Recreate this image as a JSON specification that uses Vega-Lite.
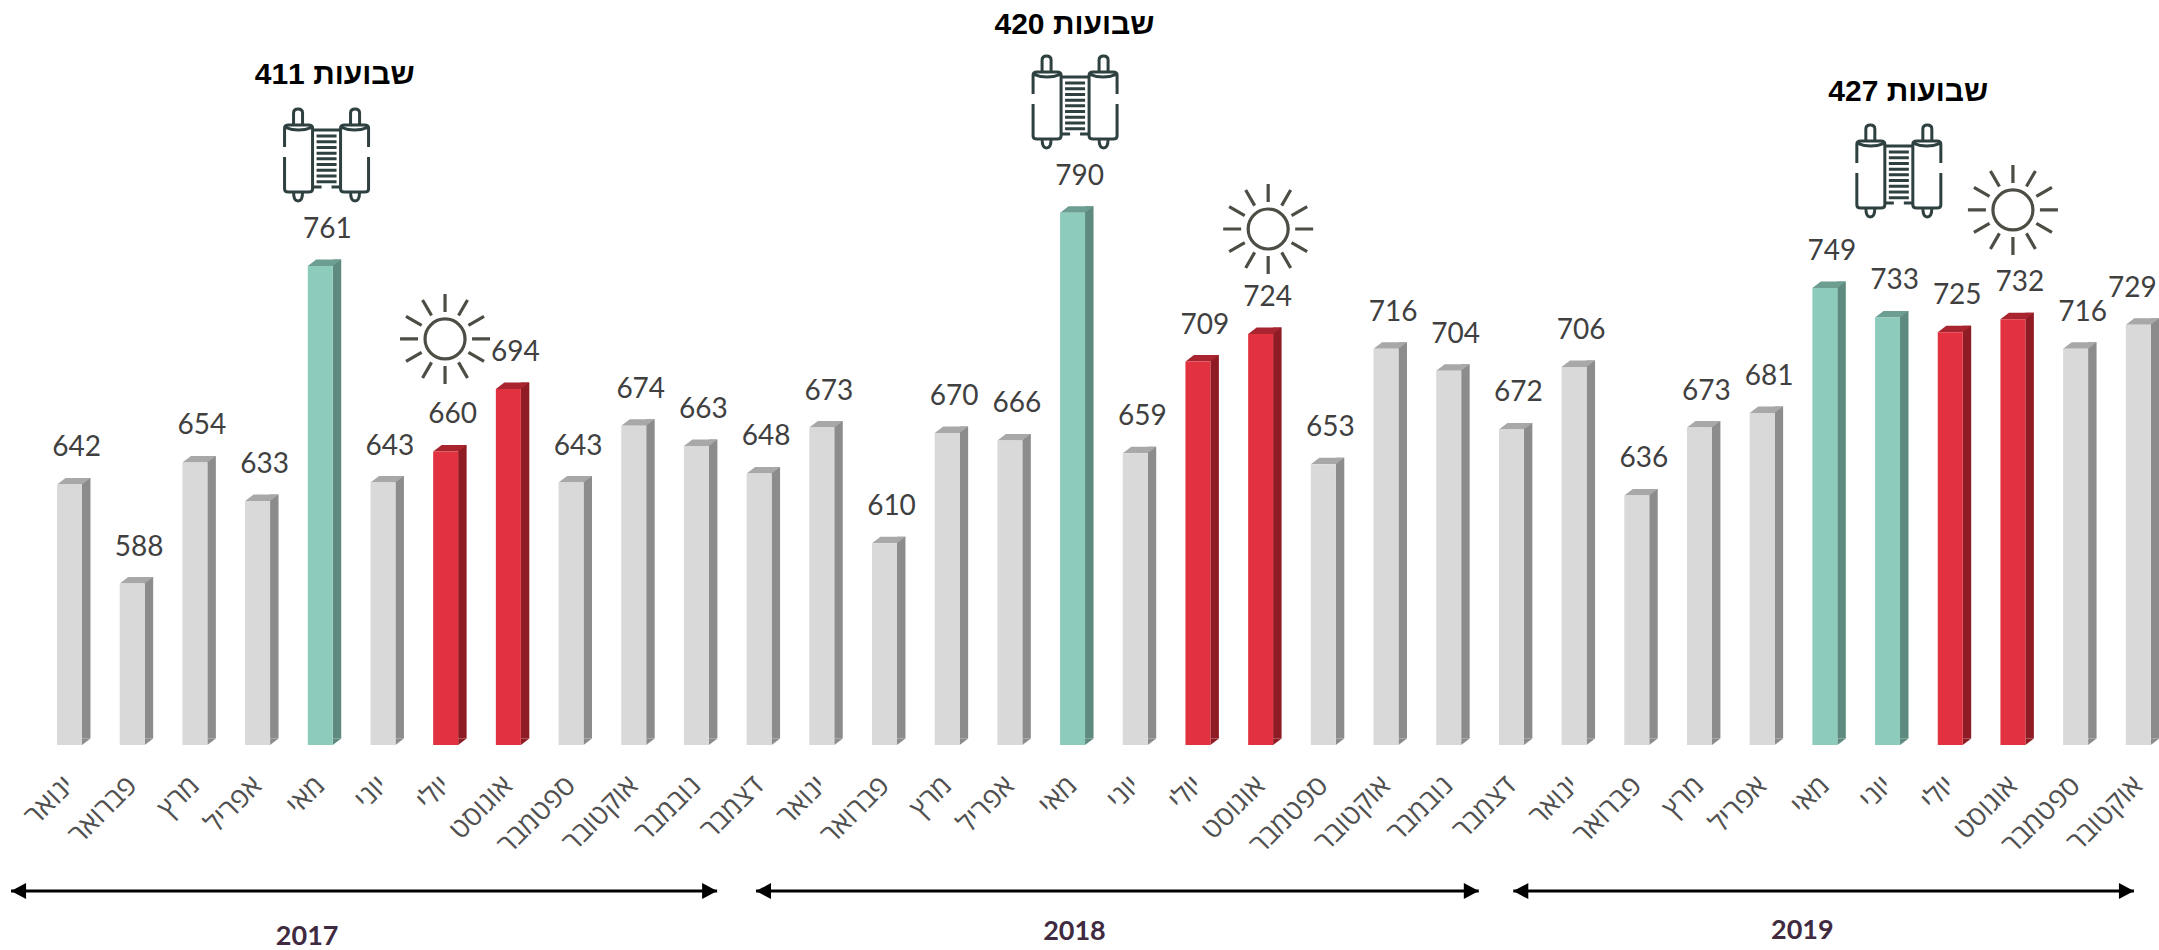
{"$schema":"https://vega.github.io/schema/vega-lite/v6.json","width":2159,"height":950,"autosize":"none","padding":0,"background":"#ffffff","config":{"view":{"stroke":null}},"datasets":{"bars":[{"i":0,"date":"2017-01","month":"ינואר","value":642,"kind":"regular"},{"i":1,"date":"2017-02","month":"פברואר","value":588,"kind":"regular"},{"i":2,"date":"2017-03","month":"מרץ","value":654,"kind":"regular"},{"i":3,"date":"2017-04","month":"אפריל","value":633,"kind":"regular"},{"i":4,"date":"2017-05","month":"מאי","value":761,"kind":"shavuot"},{"i":5,"date":"2017-06","month":"יוני","value":643,"kind":"regular"},{"i":6,"date":"2017-07","month":"יולי","value":660,"kind":"summer"},{"i":7,"date":"2017-08","month":"אוגוסט","value":694,"kind":"summer"},{"i":8,"date":"2017-09","month":"ספטמבר","value":643,"kind":"regular"},{"i":9,"date":"2017-10","month":"אוקטובר","value":674,"kind":"regular"},{"i":10,"date":"2017-11","month":"נובמבר","value":663,"kind":"regular"},{"i":11,"date":"2017-12","month":"דצמבר","value":648,"kind":"regular"},{"i":12,"date":"2018-01","month":"ינואר","value":673,"kind":"regular"},{"i":13,"date":"2018-02","month":"פברואר","value":610,"kind":"regular"},{"i":14,"date":"2018-03","month":"מרץ","value":670,"kind":"regular"},{"i":15,"date":"2018-04","month":"אפריל","value":666,"kind":"regular"},{"i":16,"date":"2018-05","month":"מאי","value":790,"kind":"shavuot"},{"i":17,"date":"2018-06","month":"יוני","value":659,"kind":"regular"},{"i":18,"date":"2018-07","month":"יולי","value":709,"kind":"summer"},{"i":19,"date":"2018-08","month":"אוגוסט","value":724,"kind":"summer"},{"i":20,"date":"2018-09","month":"ספטמבר","value":653,"kind":"regular"},{"i":21,"date":"2018-10","month":"אוקטובר","value":716,"kind":"regular"},{"i":22,"date":"2018-11","month":"נובמבר","value":704,"kind":"regular"},{"i":23,"date":"2018-12","month":"דצמבר","value":672,"kind":"regular"},{"i":24,"date":"2019-01","month":"ינואר","value":706,"kind":"regular"},{"i":25,"date":"2019-02","month":"פברואר","value":636,"kind":"regular"},{"i":26,"date":"2019-03","month":"מרץ","value":673,"kind":"regular"},{"i":27,"date":"2019-04","month":"אפריל","value":681,"kind":"regular"},{"i":28,"date":"2019-05","month":"מאי","value":749,"kind":"shavuot"},{"i":29,"date":"2019-06","month":"יוני","value":733,"kind":"shavuot"},{"i":30,"date":"2019-07","month":"יולי","value":725,"kind":"summer"},{"i":31,"date":"2019-08","month":"אוגוסט","value":732,"kind":"summer"},{"i":32,"date":"2019-09","month":"ספטמבר","value":716,"kind":"regular"},{"i":33,"date":"2019-10","month":"אוקטובר","value":729,"kind":"regular"}],"notes":[{"pos":4.23,"level":865.1,"label":"שבועות 411"},{"pos":16.03,"level":892.4,"label":"שבועות 420"},{"pos":29.33,"level":855.9,"label":"שבועות 427"}],"torahs":[{"pos":4.1,"level":821.5},{"pos":16.04,"level":850.4},{"pos":29.18,"level":812.8}],"suns":[{"pos":5.99,"level":721.3},{"pos":19.12,"level":781.2},{"pos":31.0,"level":791.6}],"spans":[{"from":-0.933,"to":10.33,"level":420.4},{"from":10.95,"to":22.48,"level":420.4},{"from":23.03,"to":32.93,"level":420.4}],"years":[{"pos":3.79,"level":395.4,"year":"2017"},{"pos":16.03,"level":398,"year":"2018"},{"pos":27.64,"level":398.6,"year":"2019"}]},"resolve":{"scale":{"color":"independent"}},"layer":[{"data":{"name":"bars"},"mark":{"type":"bar","width":8.5,"xOffset":16.7,"yOffset":-6.5,"y2Offset":-6.5},"encoding":{"x":{"field":"i","type":"quantitative","scale":{"domain":[-1.109,33.33],"nice":false,"zero":false,"padding":0},"axis":{"values":[0,1,2,3,4,5,6,7,8,9,10,11,12,13,14,15,16,17,18,19,20,21,22,23,24,25,26,27,28,29,30,31,32,33],"labelExpr":"['ינואר','פברואר','מרץ','אפריל','מאי','יוני','יולי','אוגוסט','ספטמבר','אוקטובר','נובמבר','דצמבר'][datum.value % 12]","title":null,"domain":false,"ticks":false,"grid":false,"offset":-205,"labelAngle":-45,"labelAlign":"right","labelBaseline":"middle","labelPadding":36,"labelFont":"Open Sans","labelFontSize":28,"labelColor":"#505050","labelOverlap":false,"labelFlush":false,"labelBound":false}},"y":{"field":"value","type":"quantitative","scale":{"domain":[388.3,906],"nice":false,"zero":false},"axis":null},"y2":{"datum":500},"color":{"field":"kind","type":"nominal","legend":null,"scale":{"domain":["regular","shavuot","summer"],"range":["#8c8c8c","#5e8a7f","#8f1c25"]}}}},{"data":{"name":"bars"},"mark":{"type":"point","filled":true,"size":4,"opacity":1,"shape":"M12.5,0 L21,-6.5 L12.5,-6.5 Z"},"encoding":{"x":{"field":"i","type":"quantitative"},"y":{"datum":500},"color":{"field":"kind","type":"nominal","legend":null,"scale":{"domain":["regular","shavuot","summer"],"range":["#8c8c8c","#5e8a7f","#8f1c25"]}}}},{"data":{"name":"bars"},"mark":{"type":"point","filled":true,"size":4,"opacity":1,"shape":"M-12.5,0 L12.5,0 L21,-6.5 L-4,-6.5 Z"},"encoding":{"x":{"field":"i","type":"quantitative"},"y":{"field":"value","type":"quantitative"},"color":{"field":"kind","type":"nominal","legend":null,"scale":{"domain":["regular","shavuot","summer"],"range":["#a8a8a8","#6c9e92","#a82530"]}}}},{"data":{"name":"bars"},"mark":{"type":"bar","width":25},"encoding":{"x":{"field":"i","type":"quantitative"},"y":{"field":"value","type":"quantitative"},"y2":{"datum":500},"color":{"field":"kind","type":"nominal","legend":null,"scale":{"domain":["regular","shavuot","summer"],"range":["#d9d9d9","#8dccbd","#e2323f"]}}}},{"data":{"name":"bars"},"transform":[{"filter":"datum.i < 33"}],"mark":{"type":"text","font":"Lato","fontSize":28,"color":"#404040","baseline":"middle","align":"center","dx":7,"dy":-36},"encoding":{"x":{"field":"i","type":"quantitative"},"y":{"field":"value","type":"quantitative"},"text":{"field":"value","type":"quantitative"}}},{"data":{"name":"bars"},"transform":[{"filter":"datum.i == 33"}],"mark":{"type":"text","font":"Lato","fontSize":28,"color":"#404040","baseline":"middle","align":"center","dx":-6,"dy":-36},"encoding":{"x":{"field":"i","type":"quantitative"},"y":{"field":"value","type":"quantitative"},"text":{"field":"value","type":"quantitative"}}},{"data":{"name":"notes"},"mark":{"type":"text","font":"Liberation Sans","fontWeight":"bold","fontSize":30,"color":"#000000","baseline":"middle","align":"center"},"encoding":{"x":{"field":"pos","type":"quantitative"},"y":{"field":"level","type":"quantitative"},"text":{"field":"label"}}},{"data":{"name":"torahs"},"mark":{"type":"point","filled":false,"size":4,"opacity":1,"stroke":"#2f4040","strokeWidth":3,"shape":"M-42,-8 V-27 Q-42,-30 -38,-30 H-18 Q-14,-30 -14,-27 V34 Q-14,37 -18,37 H-38 Q-42,37 -42,34 V2 M42,-8 V-27 Q42,-30 38,-30 H18 Q14,-30 14,-27 V34 Q14,37 18,37 H38 Q42,37 42,34 V2 M-42,-28 Q-28,-22 -14,-28 M14,-28 Q28,-22 42,-28 M-33,-29 V-42 Q-33,-46 -28.5,-46 Q-24,-46 -24,-42 V-29 M24,-29 V-42 Q24,-46 28.5,-46 Q33,-46 33,-42 V-29 M-33,37 Q-33,46 -28.5,46 Q-24,46 -24,37 M24,37 Q24,46 28.5,46 Q33,46 33,37 M-14,-25 H14 M-14,32 H-5 M5,32 H14 M-10,-19 H10 M-10,-13.3 H10 M-10,-7.6 H10 M-10,-1.9 H10 M-10,3.8 H10 M-10,9.5 H10 M-10,15.2 H10 M-10,20.9 H10 M-10,26.6 H10"},"encoding":{"x":{"field":"pos","type":"quantitative"},"y":{"field":"level","type":"quantitative"}}},{"data":{"name":"suns"},"mark":{"type":"point","filled":false,"size":4,"opacity":1,"stroke":"#4d4d45","strokeWidth":3.2,"shape":"M20,0 C20,11 11,20 0,20 C-11,20 -20,11 -20,0 C-20,-11 -11,-20 0,-20 C11,-20 20,-11 20,0 Z M27,0 L45,0 M23.4,13.5 L39,22.5 M13.5,23.4 L22.5,39 M0,27 L0,45 M-13.5,23.4 L-22.5,39 M-23.4,13.5 L-39,22.5 M-27,0 L-45,0 M-23.4,-13.5 L-39,-22.5 M-13.5,-23.4 L-22.5,-39 M0,-27 L0,-45 M13.5,-23.4 L22.5,-39 M23.4,-13.5 L39,-22.5"},"encoding":{"x":{"field":"pos","type":"quantitative"},"y":{"field":"level","type":"quantitative"}}},{"data":{"name":"spans"},"mark":{"type":"rule","color":"#000000","strokeWidth":3},"encoding":{"x":{"field":"from","type":"quantitative"},"x2":{"field":"to"},"y":{"field":"level","type":"quantitative"}}},{"data":{"name":"spans"},"mark":{"type":"point","filled":true,"size":4,"opacity":1,"color":"#000000","shape":"M0,0 L15,-8 L15,8 Z"},"encoding":{"x":{"field":"from","type":"quantitative"},"y":{"field":"level","type":"quantitative"}}},{"data":{"name":"spans"},"mark":{"type":"point","filled":true,"size":4,"opacity":1,"color":"#000000","shape":"M0,0 L-15,-8 L-15,8 Z"},"encoding":{"x":{"field":"to","type":"quantitative"},"y":{"field":"level","type":"quantitative"}}},{"data":{"name":"years"},"mark":{"type":"text","font":"Lato","fontWeight":"bold","fontSize":27,"color":"#3f2a3f","baseline":"middle","align":"center"},"encoding":{"x":{"field":"pos","type":"quantitative"},"y":{"field":"level","type":"quantitative"},"text":{"field":"year"}}}]}
